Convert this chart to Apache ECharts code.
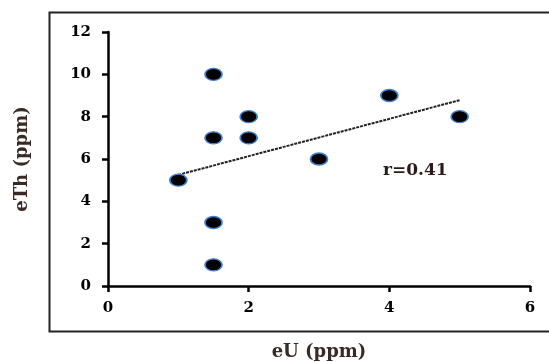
<!DOCTYPE html>
<html><head><meta charset="utf-8">
<script src="https://cdn.jsdelivr.net/npm/echarts@6/dist/echarts.min.js"></script>
<style>html,body{margin:0;padding:0;background:#fff}#c{width:549px;height:362px}</style>
</head><body><div id="c"></div>
<script>
var eU  = [1, 1.5, 1.5, 1.5, 1.5, 2, 2, 3, 4, 5];
var eTh = [5, 10, 7, 3, 1, 8, 7, 6, 9, 8];
var trendX = [1, 5];
var trendY = [5.25, 8.78];
var xTicks = [0, 2, 4, 6];
var yTicks = [0, 2, 4, 6, 8, 10, 12];
var rLabel = 'r=0.41';

var pts = eU.map(function(x, i){ return [x, eTh[i]]; });
var trend = trendX.map(function(x, i){ return [x, trendY[i]]; });
var font = 'DejaVu Serif';
var chart = echarts.init(document.getElementById('c'), null, {renderer:'canvas'});
chart.setOption({
  animation:false,
  backgroundColor:'#fff',
  grid:{left:108, right:19, top:32, bottom:76, outerBoundsMode:'none', containLabel:false},
  xAxis:{type:'value', min:xTicks[0], max:xTicks[xTicks.length-1], interval:2,
    name:'eU (ppm)', nameLocation:'middle', nameGap:57,
    nameTextStyle:{fontFamily:font, fontWeight:'bold', fontSize:18, color:'#3a2a25'},
    axisLine:{lineStyle:{color:'#000', width:2.5}},
    axisTick:{show:true, length:6, lineStyle:{color:'#000', width:2.5}},
    axisLabel:{margin:15, fontFamily:font, fontWeight:'bold', fontSize:15, color:'#000'},
    splitLine:{show:false}},
  yAxis:{type:'value', min:yTicks[0], max:yTicks[yTicks.length-1], interval:2,
    name:'eTh (ppm)', nameLocation:'middle', nameGap:77, nameRotate:90,
    nameTextStyle:{fontFamily:font, fontWeight:'bold', fontSize:18, color:'#3a2a25'},
    axisLine:{lineStyle:{color:'#000', width:2.5}},
    axisTick:{show:true, length:6, lineStyle:{color:'#000', width:2.5}},
    axisLabel:{margin:17, fontFamily:font, fontWeight:'bold', fontSize:15, color:'#000'},
    splitLine:{show:false}},
  graphic:[
    {type:'rect', left:47, top:10, shape:{width:520, height:319}, style:{fill:'none', stroke:'#222', lineWidth:2}, z:-1},
    {type:'text', left:383, top:162, style:{text:rLabel, font:'bold 17px "DejaVu Serif"', fill:'#2a1a1a'}}
  ],
  series:[
    {type:'line', data:trend, symbol:'none', lineStyle:{color:'#222', width:2, type:[3,1]}, z:1},
    {type:'scatter', data:pts, symbol:'circle', symbolSize:[17,12],
      itemStyle:{color:'#000', opacity:1, borderColor:'#3f7fd0', borderWidth:1.5}, z:2}
  ]
});
</script></body></html>
